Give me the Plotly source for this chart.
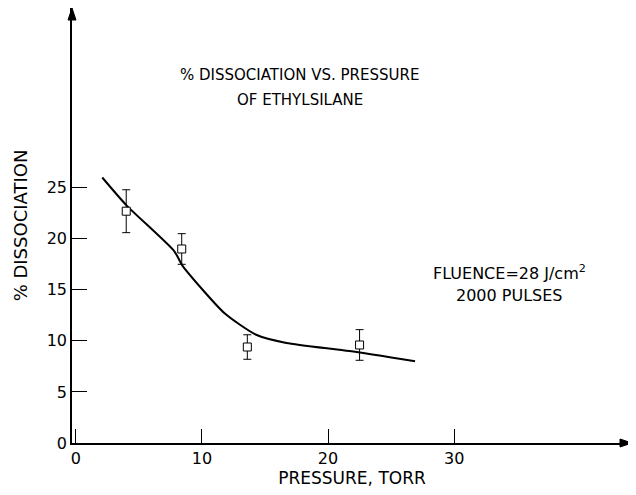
import plotly.graph_objects as go

# Measured points (pressure, % dissociation, error)
pressure = [4.0, 8.4, 13.6, 22.5]
dissociation = [22.7, 19.0, 9.4, 9.6]
error = [2.1, 1.5, 1.2, 1.5]

# Hand-drawn trend curve, read along its path
curve_x = [2.1, 4.0, 7.8, 8.5, 11.8, 14.3, 16.7, 21.7, 26.9]
curve_y = [26.0, 23.3, 18.8, 17.3, 12.7, 10.6, 9.8, 9.0, 8.0]

x_ticks = [0, 10, 20, 30]
y_ticks = [0, 5, 10, 15, 20, 25]

FONT = "DejaVu Sans"


def label(text, x, y, size, angle=0):
    return dict(text=text, x=x, y=y, xref="paper", yref="paper", showarrow=False,
                xanchor="center", yanchor="middle", textangle=angle,
                font=dict(size=size, family=FONT, color="black"))


fig = go.Figure()
fig.add_trace(go.Scatter(x=curve_x, y=curve_y, mode="lines",
                         line=dict(color="black", width=2, shape="spline", smoothing=0.6),
                         hoverinfo="skip"))
fig.add_trace(go.Scatter(x=pressure, y=dissociation, mode="markers",
                         marker=dict(symbol="square", size=8, color="white",
                                     line=dict(color="black", width=1)),
                         error_y=dict(type="data", array=error, visible=True,
                                      color="black", thickness=1, width=4)))

# arrowheads at the ends of the axes (paper coordinates)
ax_w, ax_h = 560, 435
arrow_len, arrow_half = 12, 4
x_head = (f"M 1,0 L {1 - arrow_len / ax_w},{arrow_half / ax_h} "
          f"L {1 - arrow_len / ax_w},{-arrow_half / ax_h} Z")
y_head = (f"M 0,1 L {arrow_half / ax_w},{1 - arrow_len / ax_h} "
          f"L {-arrow_half / ax_w},{1 - arrow_len / ax_h} Z")

fig.update_layout(
    width=636, height=495,
    margin=dict(l=64, r=12, t=0, b=60),
    paper_bgcolor="white", plot_bgcolor="white",
    showlegend=False,
    font=dict(family=FONT, color="black", size=15),
    xaxis=dict(range=[-0.3, 44.1], tickvals=x_ticks, ticks="inside", ticklen=14,
               tickwidth=1, tickcolor="black", showgrid=False, zeroline=False,
               showline=True, linecolor="black", linewidth=1.5,
               tickfont=dict(size=16, family=FONT), automargin=False,
               title=dict(text="PRESSURE, TORR", standoff=4,
                          font=dict(size=17, family=FONT))),
    yaxis=dict(range=[0, 42.6], tickvals=y_ticks, ticks="inside", ticklen=15,
               tickwidth=1, tickcolor="black", showgrid=False, zeroline=False,
               showline=True, linecolor="black", linewidth=1.5,
               tickfont=dict(size=16, family=FONT), automargin=False,
               title=dict(text="% DISSOCIATION", standoff=14,
                          font=dict(size=18, family=FONT))),
    shapes=[
        dict(type="path", path=x_head, xref="paper", yref="paper",
             fillcolor="black", line=dict(color="black", width=1)),
        dict(type="path", path=y_head, xref="paper", yref="paper",
             fillcolor="black", line=dict(color="black", width=1)),
    ],
    annotations=[
        label("% DISSOCIATION VS. PRESSURE", 0.407, 0.846, 15),
        label("OF ETHYLSILANE", 0.407, 0.789, 15),
        label("FLUENCE=28 J/cm<sup>2</sup>", 0.782, 0.391, 16),
        label("2000 PULSES", 0.782, 0.34, 16),
    ],
)

fig.write_html("out.html")
